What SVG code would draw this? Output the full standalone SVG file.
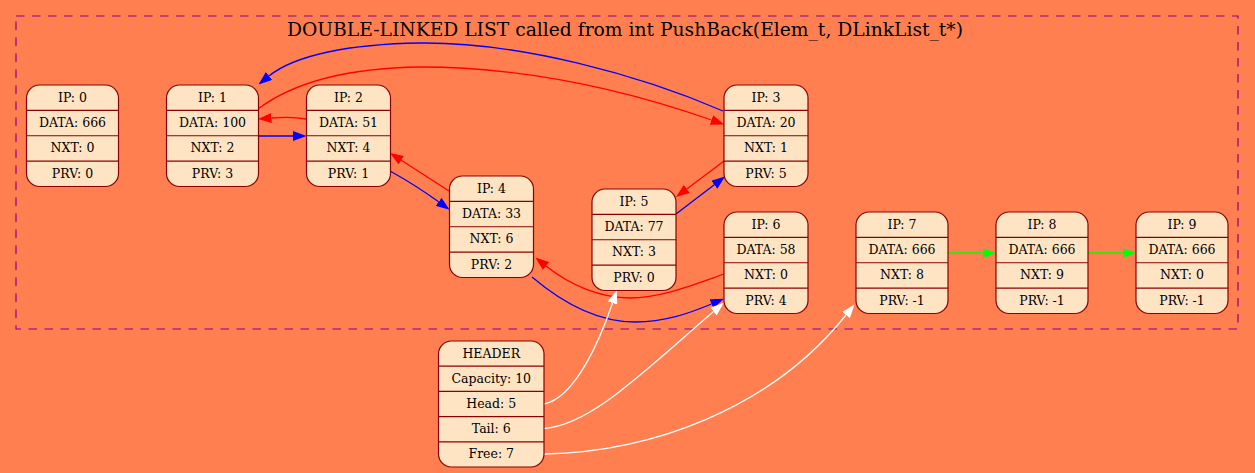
<svg xmlns="http://www.w3.org/2000/svg" width="1255" height="473" viewBox="0 0 1255 473">
  <style>
    .bg { fill: #ff7f50; }
    .cluster { fill: none; stroke: #8b008b; stroke-width: 1.2; stroke-dasharray: 8.5 7.5; }
    .title { font-family: "DejaVu Serif", serif; font-size: 18.7px; fill: #000; text-anchor: middle; }
    .box { fill: #ffe4c4; stroke: #8b0000; stroke-width: 1.2; }
    .sep { stroke: #8b0000; stroke-width: 1.2; }
    .lbl { font-family: "DejaVu Serif", serif; font-size: 12.5px; fill: #000; text-anchor: middle; }
    .e { fill: none; stroke-width: 1.3; }
    .blue { stroke: #0000ff; }
    .red { stroke: #ff0000; }
    .green { stroke: #00ff00; }
    .white { stroke: #ffffff; }
  </style>
  <defs>
    <marker id="ah-blue" viewBox="0 0 13.5 10" markerWidth="13.5" markerHeight="10" refX="0" refY="5" orient="auto" markerUnits="userSpaceOnUse">
      <path d="M0,0 L13.5,5 L0,10 Z" fill="#0000ff"/>
    </marker>
    <marker id="ah-red" viewBox="0 0 13.5 10" markerWidth="13.5" markerHeight="10" refX="0" refY="5" orient="auto" markerUnits="userSpaceOnUse">
      <path d="M0,0 L13.5,5 L0,10 Z" fill="#ff0000"/>
    </marker>
    <marker id="ah-green" viewBox="0 0 13.5 10" markerWidth="13.5" markerHeight="10" refX="0" refY="5" orient="auto" markerUnits="userSpaceOnUse">
      <path d="M0,0 L13.5,5 L0,10 Z" fill="#00ff00"/>
    </marker>
    <marker id="ah-white" viewBox="0 0 13.5 10" markerWidth="13.5" markerHeight="10" refX="0" refY="5" orient="auto" markerUnits="userSpaceOnUse">
      <path d="M0,0 L13.5,5 L0,10 Z" fill="#ffffff"/>
    </marker>
  </defs>

  <rect class="bg" x="0" y="0" width="1255" height="473"/>

  <!-- list cluster -->
  <g id="cluster-list">
    <rect class="cluster" x="16" y="16" width="1222" height="313"/>
    <text class="title" x="625" y="36">DOUBLE-LINKED LIST called from int PushBack(Elem_t, DLinkList_t*)</text>
  </g>

  <!-- connectors -->
  <g id="edges">
    <!-- next links -->
    <path class="e blue" d="M723,111 C640,75 520,42 420,43 C350,44 295,55 269,76" marker-end="url(#ah-blue)"/>
    <path class="e blue" d="M258,136 L293,136" marker-end="url(#ah-blue)"/>
    <path class="e blue" d="M390,171 C410,182 425,192 438.6,201.8" marker-end="url(#ah-blue)"/>
    <path class="e blue" d="M676,214 L714.3,184.7" marker-end="url(#ah-blue)"/>
    <path class="e blue" d="M532,277 C565,305 600,322 635,322 C665,322 690,313 711.5,304" marker-end="url(#ah-blue)"/>
    <!-- prev links -->
    <path class="e red" d="M258,109 C290,85 340,68 420,67 C520,67 620,88 711.5,120" marker-end="url(#ah-red)"/>
    <path class="e red" d="M306,119 C295,117 285,117 271.5,118" marker-end="url(#ah-red)"/>
    <path class="e red" d="M449,191 L401.3,160.3" marker-end="url(#ah-red)"/>
    <path class="e red" d="M724,161 L686.8,188.9" marker-end="url(#ah-red)"/>
    <path class="e red" d="M724,274 C690,286 660,298 630,298 C600,298 570,285 546,266" marker-end="url(#ah-red)"/>
    <!-- free list -->
    <path class="e green" d="M948,253 L982.5,253" marker-end="url(#ah-green)"/>
    <path class="e green" d="M1088,253 L1122.5,253" marker-end="url(#ah-green)"/>
    <!-- header pointers -->
    <path class="e white" d="M544,404 C575,398 600,340 612.5,303" marker-end="url(#ah-white)"/>
    <path class="e white" d="M544,428.5 C590,425 640,375 713.5,311.5" marker-end="url(#ah-white)"/>
    <path class="e white" d="M544,454 C650,452 770,410 846,315" marker-end="url(#ah-white)"/>
  </g>

  <!-- list elements -->
  <g id="node0" transform="translate(26.5,85)">
    <rect class="box" x="0" y="0" width="92" height="101.5" rx="13"/>
    <line class="sep" x1="0" y1="25.4" x2="92" y2="25.4"/>
    <line class="sep" x1="0" y1="50.75" x2="92" y2="50.75"/>
    <line class="sep" x1="0" y1="76.1" x2="92" y2="76.1"/>
    <text class="lbl" x="46" y="16.7">IP: 0</text>
    <text class="lbl" x="46" y="42.1">DATA: 666</text>
    <text class="lbl" x="46" y="67.4">NXT: 0</text>
    <text class="lbl" x="46" y="92.8">PRV: 0</text>
  </g>
  <g id="node1" transform="translate(166.5,85)">
    <rect class="box" x="0" y="0" width="92" height="101.5" rx="13"/>
    <line class="sep" x1="0" y1="25.4" x2="92" y2="25.4"/>
    <line class="sep" x1="0" y1="50.75" x2="92" y2="50.75"/>
    <line class="sep" x1="0" y1="76.1" x2="92" y2="76.1"/>
    <text class="lbl" x="46" y="16.7">IP: 1</text>
    <text class="lbl" x="46" y="42.1">DATA: 100</text>
    <text class="lbl" x="46" y="67.4">NXT: 2</text>
    <text class="lbl" x="46" y="92.8">PRV: 3</text>
  </g>
  <g id="node2" transform="translate(306.5,85)">
    <rect class="box" x="0" y="0" width="84" height="101.5" rx="13"/>
    <line class="sep" x1="0" y1="25.4" x2="84" y2="25.4"/>
    <line class="sep" x1="0" y1="50.75" x2="84" y2="50.75"/>
    <line class="sep" x1="0" y1="76.1" x2="84" y2="76.1"/>
    <text class="lbl" x="42" y="16.7">IP: 2</text>
    <text class="lbl" x="42" y="42.1">DATA: 51</text>
    <text class="lbl" x="42" y="67.4">NXT: 4</text>
    <text class="lbl" x="42" y="92.8">PRV: 1</text>
  </g>
  <g id="node3" transform="translate(724,85)">
    <rect class="box" x="0" y="0" width="84" height="101.5" rx="13"/>
    <line class="sep" x1="0" y1="25.4" x2="84" y2="25.4"/>
    <line class="sep" x1="0" y1="50.75" x2="84" y2="50.75"/>
    <line class="sep" x1="0" y1="76.1" x2="84" y2="76.1"/>
    <text class="lbl" x="42" y="16.7">IP: 3</text>
    <text class="lbl" x="42" y="42.1">DATA: 20</text>
    <text class="lbl" x="42" y="67.4">NXT: 1</text>
    <text class="lbl" x="42" y="92.8">PRV: 5</text>
  </g>
  <g id="node4" transform="translate(449.5,176)">
    <rect class="box" x="0" y="0" width="84" height="101.5" rx="13"/>
    <line class="sep" x1="0" y1="25.4" x2="84" y2="25.4"/>
    <line class="sep" x1="0" y1="50.75" x2="84" y2="50.75"/>
    <line class="sep" x1="0" y1="76.1" x2="84" y2="76.1"/>
    <text class="lbl" x="42" y="16.7">IP: 4</text>
    <text class="lbl" x="42" y="42.1">DATA: 33</text>
    <text class="lbl" x="42" y="67.4">NXT: 6</text>
    <text class="lbl" x="42" y="92.8">PRV: 2</text>
  </g>
  <g id="node5" transform="translate(592,189)">
    <rect class="box" x="0" y="0" width="84" height="101.5" rx="13"/>
    <line class="sep" x1="0" y1="25.4" x2="84" y2="25.4"/>
    <line class="sep" x1="0" y1="50.75" x2="84" y2="50.75"/>
    <line class="sep" x1="0" y1="76.1" x2="84" y2="76.1"/>
    <text class="lbl" x="42" y="16.7">IP: 5</text>
    <text class="lbl" x="42" y="42.1">DATA: 77</text>
    <text class="lbl" x="42" y="67.4">NXT: 3</text>
    <text class="lbl" x="42" y="92.8">PRV: 0</text>
  </g>
  <g id="node6" transform="translate(724,212)">
    <rect class="box" x="0" y="0" width="84" height="101.5" rx="13"/>
    <line class="sep" x1="0" y1="25.4" x2="84" y2="25.4"/>
    <line class="sep" x1="0" y1="50.75" x2="84" y2="50.75"/>
    <line class="sep" x1="0" y1="76.1" x2="84" y2="76.1"/>
    <text class="lbl" x="42" y="16.7">IP: 6</text>
    <text class="lbl" x="42" y="42.1">DATA: 58</text>
    <text class="lbl" x="42" y="67.4">NXT: 0</text>
    <text class="lbl" x="42" y="92.8">PRV: 4</text>
  </g>
  <g id="node7" transform="translate(856,212)">
    <rect class="box" x="0" y="0" width="92" height="101.5" rx="13"/>
    <line class="sep" x1="0" y1="25.4" x2="92" y2="25.4"/>
    <line class="sep" x1="0" y1="50.75" x2="92" y2="50.75"/>
    <line class="sep" x1="0" y1="76.1" x2="92" y2="76.1"/>
    <text class="lbl" x="46" y="16.7">IP: 7</text>
    <text class="lbl" x="46" y="42.1">DATA: 666</text>
    <text class="lbl" x="46" y="67.4">NXT: 8</text>
    <text class="lbl" x="46" y="92.8">PRV: -1</text>
  </g>
  <g id="node8" transform="translate(996,212)">
    <rect class="box" x="0" y="0" width="92" height="101.5" rx="13"/>
    <line class="sep" x1="0" y1="25.4" x2="92" y2="25.4"/>
    <line class="sep" x1="0" y1="50.75" x2="92" y2="50.75"/>
    <line class="sep" x1="0" y1="76.1" x2="92" y2="76.1"/>
    <text class="lbl" x="46" y="16.7">IP: 8</text>
    <text class="lbl" x="46" y="42.1">DATA: 666</text>
    <text class="lbl" x="46" y="67.4">NXT: 9</text>
    <text class="lbl" x="46" y="92.8">PRV: -1</text>
  </g>
  <g id="node9" transform="translate(1136,212)">
    <rect class="box" x="0" y="0" width="92" height="101.5" rx="13"/>
    <line class="sep" x1="0" y1="25.4" x2="92" y2="25.4"/>
    <line class="sep" x1="0" y1="50.75" x2="92" y2="50.75"/>
    <line class="sep" x1="0" y1="76.1" x2="92" y2="76.1"/>
    <text class="lbl" x="46" y="16.7">IP: 9</text>
    <text class="lbl" x="46" y="42.1">DATA: 666</text>
    <text class="lbl" x="46" y="67.4">NXT: 0</text>
    <text class="lbl" x="46" y="92.8">PRV: -1</text>
  </g>

  <!-- list header -->
  <g id="header" transform="translate(438.5,341)">
    <rect class="box" x="0" y="0" width="105.5" height="126" rx="13"/>
    <line class="sep" x1="0" y1="25.2" x2="105.5" y2="25.2"/>
    <line class="sep" x1="0" y1="50.4" x2="105.5" y2="50.4"/>
    <line class="sep" x1="0" y1="75.6" x2="105.5" y2="75.6"/>
    <line class="sep" x1="0" y1="100.8" x2="105.5" y2="100.8"/>
    <text class="lbl" x="52.75" y="16.6">HEADER</text>
    <text class="lbl" x="52.75" y="41.8">Capacity: 10</text>
    <text class="lbl" x="52.75" y="67">Head: 5</text>
    <text class="lbl" x="52.75" y="92.2">Tail: 6</text>
    <text class="lbl" x="52.75" y="117.4">Free: 7</text>
  </g>
</svg>
